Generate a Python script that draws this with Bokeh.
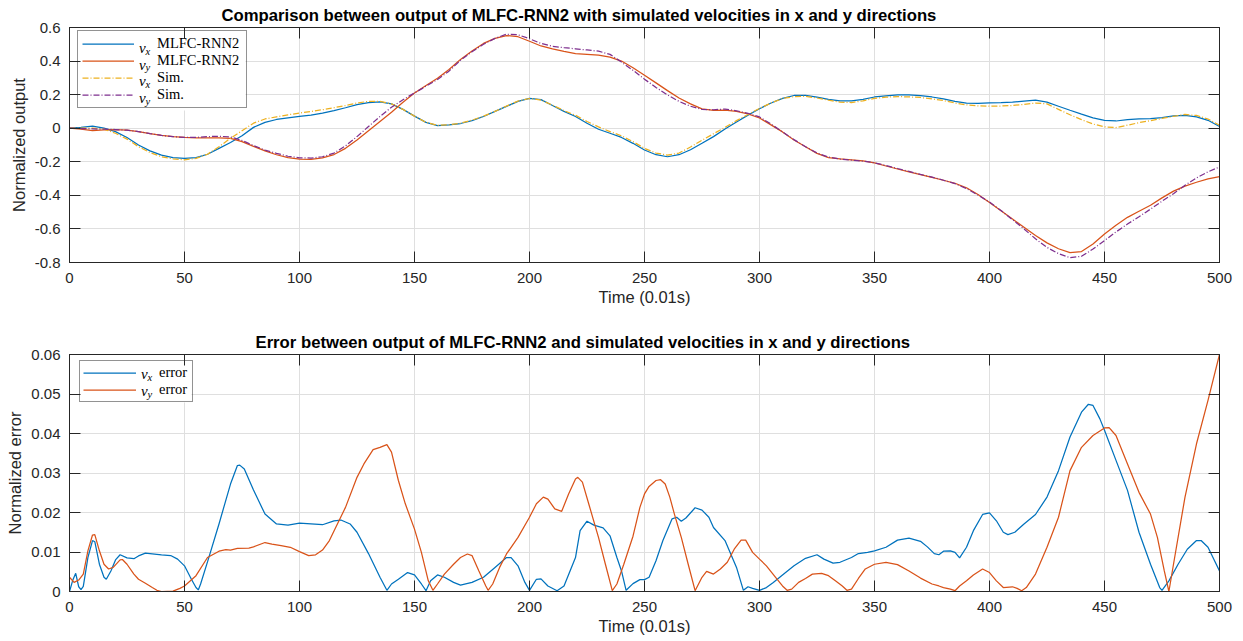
from bokeh.plotting import figure
from bokeh.models import FixedTicker, LinearAxis, Legend, LegendItem, BoxAnnotation
from bokeh.core.properties import value
from bokeh.layouts import column
from bokeh.embed import file_html
from bokeh.resources import INLINE

# ---------------- data ----------------
t_top = list(range(0, 505, 5))

vx_mlfc = [0.0, 0.005, 0.012, 0.0, -0.02, -0.055, -0.10, -0.135, -0.16, -0.175,
           -0.18, -0.175, -0.155, -0.12, -0.085, -0.045, 0.005, 0.035, 0.052, 0.062,
           0.07, 0.078, 0.09, 0.105, 0.122, 0.14, 0.153, 0.157, 0.145, 0.112,
           0.072, 0.035, 0.016, 0.02, 0.028, 0.045, 0.07, 0.1, 0.13, 0.16,
           0.178, 0.17, 0.135, 0.1, 0.07, 0.03, -0.006, -0.03, -0.055, -0.09,
           -0.13, -0.158, -0.17, -0.158, -0.128, -0.09, -0.05, -0.005, 0.037, 0.078,
           0.116, 0.15, 0.178, 0.195, 0.196, 0.185, 0.172, 0.163, 0.163, 0.172,
           0.186, 0.193, 0.198, 0.198, 0.194, 0.186, 0.175, 0.16, 0.149, 0.148,
           0.151, 0.152, 0.155, 0.162, 0.167, 0.155, 0.131, 0.107, 0.084, 0.062,
           0.047, 0.043, 0.051, 0.055, 0.057, 0.063, 0.073, 0.076, 0.068, 0.047,
           0.01]

vx_sim = [0.0, 0.0, 0.0, -0.005, -0.03, -0.065, -0.11, -0.145, -0.17, -0.183,
          -0.188, -0.18, -0.155, -0.11, -0.06, -0.015, 0.03, 0.055, 0.068, 0.08,
          0.09, 0.1, 0.11, 0.122, 0.135, 0.15, 0.16, 0.16, 0.145, 0.112,
          0.072, 0.035, 0.017, 0.02, 0.03, 0.048, 0.072, 0.1, 0.132, 0.162,
          0.177, 0.168, 0.137, 0.105, 0.077, 0.04, 0.008, -0.02, -0.045, -0.08,
          -0.12, -0.148, -0.16, -0.148, -0.112, -0.072, -0.033, 0.005, 0.045, 0.082,
          0.118, 0.15, 0.177, 0.188, 0.19, 0.18, 0.167, 0.155, 0.153, 0.163,
          0.178, 0.185, 0.188, 0.187, 0.183, 0.175, 0.165, 0.15, 0.139, 0.133,
          0.131, 0.132, 0.135, 0.142, 0.15, 0.145, 0.112, 0.08, 0.051, 0.025,
          0.008, 0.004, 0.018, 0.033, 0.045, 0.058, 0.071, 0.082, 0.076, 0.055,
          0.018]

vy_mlfc = [0.0, -0.005, -0.014, -0.01, -0.008, -0.012, -0.02, -0.032, -0.043, -0.05,
           -0.055, -0.057, -0.057, -0.057, -0.06, -0.08, -0.108, -0.135, -0.158, -0.175,
           -0.184, -0.185, -0.177, -0.157, -0.12, -0.07, -0.015, 0.04, 0.095, 0.155,
           0.21, 0.255, 0.298, 0.35, 0.41, 0.46, 0.505, 0.535, 0.552, 0.545,
           0.518, 0.49, 0.473, 0.458, 0.445, 0.44, 0.435, 0.424, 0.4, 0.36,
           0.316, 0.27, 0.224, 0.18, 0.145, 0.115, 0.106, 0.108, 0.1, 0.085,
           0.061, 0.02, -0.022, -0.07, -0.11, -0.15, -0.175, -0.183, -0.188, -0.195,
           -0.206, -0.225, -0.243, -0.26, -0.276, -0.293, -0.31, -0.328, -0.355, -0.395,
           -0.443, -0.492, -0.541, -0.59, -0.639, -0.683, -0.718, -0.741, -0.735, -0.69,
           -0.63, -0.578, -0.531, -0.495, -0.459, -0.415, -0.375, -0.345, -0.322, -0.302,
           -0.288]

vy_sim = [0.0, -0.002, -0.004, -0.006, -0.008, -0.012, -0.02, -0.032, -0.043, -0.05,
          -0.055, -0.055, -0.05, -0.048, -0.052, -0.073, -0.103, -0.13, -0.15, -0.167,
          -0.176, -0.178, -0.17, -0.148, -0.105, -0.05, 0.01, 0.07, 0.125, 0.17,
          0.21, 0.25, 0.29, 0.34, 0.405, 0.455, 0.5, 0.535, 0.56, 0.557,
          0.533, 0.505, 0.488, 0.48, 0.473, 0.466, 0.459, 0.44, 0.394, 0.345,
          0.292, 0.243, 0.198, 0.16, 0.131, 0.112, 0.11, 0.114, 0.104, 0.088,
          0.067, 0.025, -0.022, -0.068, -0.11, -0.148, -0.172, -0.184, -0.19, -0.196,
          -0.206, -0.222, -0.24, -0.257, -0.275, -0.292, -0.31, -0.33, -0.36, -0.398,
          -0.44, -0.49, -0.545, -0.6, -0.659, -0.71, -0.747, -0.771, -0.763, -0.72,
          -0.669, -0.618, -0.571, -0.527, -0.482, -0.435, -0.39, -0.34, -0.296, -0.26,
          -0.231]

t_vx_err = [0, 1.5, 2.7, 4, 5, 6, 8, 10, 11, 13, 15, 16, 18, 20, 22, 25, 28, 30, 33, 35,
            40, 44, 47, 50, 53, 55, 56, 57, 60, 65, 70, 73, 74, 76, 80, 85, 90, 95, 100, 105,
            110, 115, 118, 122, 125, 130, 135, 138, 140, 143, 147, 150, 153, 155, 157, 160, 163, 167, 170, 175,
            180, 185, 190, 192, 195, 198, 200, 203, 205, 208, 212, 215, 220, 222, 225, 228, 232, 235, 238, 240,
            242, 245, 248, 250, 252, 255, 258, 262, 264, 266, 268, 272, 275, 278, 280, 285, 290, 293, 295, 297,
            300, 303, 306, 310, 315, 320, 325, 328, 332, 335, 340, 343, 347, 350, 355, 360, 365, 370, 373, 376,
            378, 380, 383, 385, 387, 390, 393, 397, 400, 403, 406, 408, 411, 415, 420, 425, 430, 435, 440, 443,
            445, 448, 450, 455, 460, 465, 470, 474, 475, 478, 482, 486, 490, 492, 495, 500]
vx_err = [0.0, 0.003, 0.0046, 0.0012, 0.0005, 0.0013, 0.0086, 0.0129, 0.0126, 0.0069, 0.0036, 0.0031, 0.0052, 0.008, 0.0093, 0.0085, 0.0083, 0.009, 0.0097, 0.0096,
          0.0093, 0.0091, 0.0082, 0.0065, 0.0031, 0.001, 0.0004, 0.0019, 0.0075, 0.0171, 0.0272, 0.0319, 0.032, 0.031, 0.0257, 0.0196, 0.0171, 0.0168, 0.0173, 0.0171,
          0.0169, 0.0179, 0.0181, 0.0171, 0.015, 0.0096, 0.0036, 0.0003, 0.0019, 0.0031, 0.0048, 0.0042, 0.0019, 0.0002, 0.0027, 0.0042, 0.0036, 0.0023, 0.0016, 0.0023,
          0.0036, 0.0061, 0.0086, 0.0086, 0.0065, 0.0023, 0.0003, 0.0031, 0.0032, 0.0014, 0.0002, 0.0014, 0.0086, 0.0154, 0.0178, 0.0168, 0.0161, 0.0141, 0.0086, 0.0052,
          0.0003, 0.002, 0.003, 0.003, 0.0036, 0.0078, 0.0129, 0.0184, 0.0188, 0.0178, 0.0186, 0.0212, 0.0206, 0.0188, 0.0162, 0.0129, 0.0061, 0.0003, 0.0012, 0.0008,
          0.0003, 0.001, 0.0023, 0.0042, 0.0065, 0.0084, 0.0093, 0.0082, 0.0072, 0.0074, 0.0086, 0.0096, 0.0099, 0.0103, 0.0112, 0.013, 0.0135, 0.0127, 0.0113, 0.0096,
          0.0093, 0.0102, 0.0103, 0.0099, 0.0085, 0.0112, 0.0154, 0.0195, 0.0199, 0.0179, 0.015, 0.0144, 0.015, 0.0171, 0.0195, 0.0239, 0.0306, 0.0391, 0.0454, 0.0474,
          0.0471, 0.0437, 0.0408, 0.0332, 0.0256, 0.015, 0.0069, 0.001, 0.0003, 0.0027, 0.0069, 0.0107, 0.0129, 0.0129, 0.0112, 0.0052]

t_vy_err = [0, 2, 4, 6, 8, 10, 11, 13, 15, 17, 19, 22, 23, 25, 28, 30, 33, 36, 38, 40,
            45, 48, 50, 55, 60, 65, 68, 70, 73, 78, 80, 85, 88, 92, 96, 100, 104, 107, 110, 113,
            116, 120, 125, 128, 132, 135, 138, 140, 143, 146, 150, 153, 156, 158, 160, 163, 167, 170, 173, 175,
            178, 181, 182, 184, 187, 190, 195, 200, 203, 206, 208, 211, 214, 217, 220, 221, 223, 226, 230, 233,
            236, 238, 241, 245, 248, 250, 252, 255, 257, 259, 261, 263, 266, 269, 272, 275, 277, 280, 283, 286,
            289, 292, 294, 297, 300, 303, 307, 310, 312, 314, 317, 320, 323, 327, 330, 333, 336, 338, 340, 343,
            346, 350, 355, 360, 365, 370, 375, 378, 380, 383, 385, 387, 390, 393, 397, 400, 403, 406, 410, 412,
            414, 416, 420, 425, 430, 435, 440, 445, 450, 452, 455, 460, 465, 470, 473, 476, 478, 480, 485, 490,
            495, 500]
vy_err = [0.0036, 0.0023, 0.0029, 0.0044, 0.0103, 0.0143, 0.0144, 0.0103, 0.0069, 0.0057, 0.0061, 0.008, 0.0081, 0.0069, 0.0044, 0.0031, 0.0021, 0.001, 0.0003, 0.0,
          0.0001, 0.0008, 0.0014, 0.004, 0.0086, 0.0102, 0.0106, 0.0105, 0.0109, 0.011, 0.0113, 0.0124, 0.012, 0.0116, 0.0112, 0.0101, 0.0091, 0.0093, 0.0105, 0.0129,
          0.0165, 0.0213, 0.0289, 0.0323, 0.0359, 0.0365, 0.0372, 0.0353, 0.0281, 0.0222, 0.0158, 0.0099, 0.0027, 0.0003, 0.0019, 0.0044, 0.0069, 0.0086, 0.0095, 0.0091,
          0.0052, 0.0014, 0.0003, 0.0019, 0.0061, 0.0095, 0.0137, 0.0188, 0.0222, 0.0239, 0.0234, 0.0209, 0.0203, 0.0247, 0.0285, 0.0289, 0.0277, 0.0217, 0.0137, 0.0069,
          0.0002, 0.0019, 0.0069, 0.0140, 0.0213, 0.0247, 0.0266, 0.0281, 0.0283, 0.0272, 0.0239, 0.0196, 0.0137, 0.0069, 0.0002, 0.0036, 0.0051, 0.0044, 0.0057, 0.0074,
          0.0107, 0.013, 0.013, 0.0099, 0.0082, 0.0065, 0.0036, 0.0014, 0.0003, 0.0006, 0.0023, 0.0033, 0.0044, 0.0046, 0.004, 0.0027, 0.0014, 0.0003, 0.0006, 0.0033,
          0.0057, 0.0069, 0.0074, 0.0068, 0.0052, 0.0034, 0.0019, 0.0014, 0.001, 0.0006, 0.0002, 0.0014, 0.0027, 0.0042, 0.0057, 0.0048, 0.0027, 0.001, 0.0012, 0.0008,
          0.0002, 0.001, 0.0044, 0.0112, 0.0188, 0.0306, 0.0365, 0.0395, 0.0414, 0.0415, 0.0395, 0.0323, 0.0251, 0.0196, 0.0137, 0.0052, 0.0, 0.0069, 0.0239, 0.0374,
          0.0484, 0.06]

x_ticks = [0, 50, 100, 150, 200, 250, 300, 350, 400, 450, 500]
x_tick_labels = ["0", "50", "100", "150", "200", "250", "300", "350", "400", "450", "500"]
y_ticks_top = [-0.8, -0.6, -0.4, -0.2, 0, 0.2, 0.4, 0.6]
y_tick_labels_top = ["-0.8", "-0.6", "-0.4", "-0.2", "0", "0.2", "0.4", "0.6"]
y_ticks_bot = [0, 0.01, 0.02, 0.03, 0.04, 0.05, 0.06]
y_tick_labels_bot = ["0", "0.01", "0.02", "0.03", "0.04", "0.05", "0.06"]

title_top = "Comparison between output of MLFC-RNN2 with simulated velocities in x and y directions"
title_bot = "Error between output of MLFC-RNN2 and simulated velocities in x and y directions"
legend_top = ["MLFC-RNN2", "MLFC-RNN2", "Sim.", "Sim."]
legend_top_sub = ["x", "y", "x", "y"]
legend_bot = ["error", "error"]
legend_bot_sub = ["x", "y"]

# ---------------- styling / layout constants ----------------
BLUE, ORANGE, YELLOW, PURPLE = "#0072BD", "#D95319", "#EDB120", "#7E2F8E"
AX = "#262626"
GRID = "#dfdfdf"
SANS = "Liberation Sans"
SERIF = "Liberation Serif"
FW = 1150           # frame width in px
X0, X1 = 0, 500


def style_axis(ax, ticks, labels, show_labels=True):
    ax.ticker = FixedTicker(ticks=ticks)
    ax.major_tick_in = 11
    ax.major_tick_out = 0
    ax.minor_tick_in = 0
    ax.minor_tick_out = 0
    ax.major_tick_line_color = AX
    ax.major_tick_line_width = 1
    ax.axis_line_color = AX
    ax.axis_line_width = 1
    if show_labels:
        ax.major_label_overrides = dict(zip(ticks, labels))
        ax.major_label_text_font = SANS
        ax.major_label_text_font_size = "15px"
        ax.major_label_text_color = AX
        ax.axis_label_text_font = SANS
        ax.axis_label_text_font_size = "16.5px"
        ax.axis_label_text_font_style = "normal"
        ax.axis_label_text_color = AX
    else:
        ax.major_label_overrides = {t: "" for t in ticks}
        ax.major_label_text_font_size = "0px"
        ax.major_label_standoff = 0


def make_fig(title, title_offset, yr, yticks, ylabels, ylabel, mb_top, fh, mb_bottom):
    p = figure(width=1235, height=mb_top + fh + mb_bottom, x_range=(X0, X1), y_range=yr,
               output_backend="svg", toolbar_location=None,
               min_border_left=69, min_border_right=16,
               min_border_top=mb_top, min_border_bottom=mb_bottom)
    p.title.text = title
    p.title.align = "left"
    p.title.offset = title_offset
    p.title.standoff = 6
    p.title.text_font = SANS
    p.title.text_font_size = "16.7px"
    p.title.text_font_style = "bold"
    p.title.text_color = "#000000"
    p.background_fill_color = "white"
    p.border_fill_color = "white"
    p.outline_line_color = AX
    p.outline_line_width = 1

    style_axis(p.xaxis[0], x_ticks, x_tick_labels)
    style_axis(p.yaxis[0], yticks, ylabels)
    p.xaxis[0].axis_label = "Time (0.01s)"
    p.xaxis[0].major_label_standoff = 10
    p.xaxis[0].axis_label_standoff = 2
    p.yaxis[0].axis_label = ylabel
    p.yaxis[0].major_label_standoff = 9
    p.yaxis[0].axis_label_standoff = 4

    top = LinearAxis()
    style_axis(top, x_ticks, x_tick_labels, show_labels=False)
    p.add_layout(top, "above")
    right = LinearAxis()
    style_axis(right, yticks, ylabels, show_labels=False)
    p.add_layout(right, "right")

    p.xgrid.ticker = FixedTicker(ticks=x_ticks)
    p.ygrid.ticker = FixedTicker(ticks=yticks)
    p.xgrid.grid_line_color = GRID
    p.ygrid.grid_line_color = GRID
    p.xgrid.grid_line_width = 1
    p.ygrid.grid_line_width = 1
    return p


def add_legend(p, renderers, texts, subs, fh, yr, left, top, pad, gw, lw):
    """Native legend (transparent) over a white box; italic 'v' + subscript as text glyphs."""
    n = len(renderers)
    rh = 17
    h = n * rh + 2 * pad
    y0, y1 = yr
    sx = lambda px: X0 + px * (X1 - X0) / FW
    sy = lambda px_from_top: y1 - px_from_top * (y1 - y0) / fh
    w = pad + gw + 23 + lw + pad
    # white background of the legend box (covers the grid, beneath the curves)
    p.add_layout(BoxAnnotation(left=sx(left), right=sx(left + w), top=sy(top), bottom=sy(top + h),
                               fill_color="white", fill_alpha=1.0, line_alpha=0.0,
                               level="underlay", propagate_hover=False))
    leg = Legend(items=[LegendItem(label=t, renderers=[r]) for t, r in zip(texts, renderers)],
                 location=(left, fh - top - h), padding=pad, spacing=0, margin=0,
                 glyph_width=gw, glyph_height=rh, label_height=rh, label_width=lw,
                 label_standoff=23, label_text_font=SERIF, label_text_font_size="14.5px",
                 label_text_color="#000000",
                 border_line_color=AX, border_line_width=1,
                 background_fill_alpha=0.0)
    p.add_layout(leg)
    vx_px = left + pad + gw + 5.5
    rows = [top + pad + rh / 2 + rh * i for i in range(n)]
    p.text(x=[sx(vx_px)] * n, y=[sy(r) for r in rows], text=["v"] * n,
           text_font=value(SERIF), text_font_style="italic", text_font_size="15px",
           text_baseline="middle", text_align="left", text_color="#000000")
    p.text(x=[sx(vx_px + 6.5)] * n, y=[sy(r + 3.5) for r in rows], text=list(subs),
           text_font=value(SERIF), text_font_style="italic", text_font_size="10.5px",
           text_baseline="middle", text_align="left", text_color="#000000")


# ---------------- top figure ----------------
FH1 = 238
YR1 = (-0.8, 0.6)
p1 = make_fig(title_top, 152, YR1, y_ticks_top, y_tick_labels_top,
              "Normalized output", 24, FH1, 58)
r1 = p1.line(t_top, vx_mlfc, line_color=BLUE, line_width=1.25)
r2 = p1.line(t_top, vy_mlfc, line_color=ORANGE, line_width=1.25)
r3 = p1.line(t_top, vx_sim, line_color=YELLOW, line_width=1.25, line_dash="6 2 1 2")
r4 = p1.line(t_top, vy_sim, line_color=PURPLE, line_width=1.25, line_dash="6 2 1 2")
add_legend(p1, [r1, r2, r3, r4], legend_top, legend_top_sub, FH1, YR1,
           left=8, top=8, pad=4, gw=52, lw=85)

# ---------------- bottom figure ----------------
FH2 = 237
YR2 = (0, 0.06)
p2 = make_fig(title_bot, 186, YR2, y_ticks_bot, y_tick_labels_bot,
              "Normalized error", 34, FH2, 50)
e1 = p2.line(t_vx_err, vx_err, line_color=BLUE, line_width=1.25)
e2 = p2.line(t_vy_err, vy_err, line_color=ORANGE, line_width=1.25)
add_legend(p2, [e1, e2], legend_bot, legend_bot_sub, FH2, YR2,
           left=10, top=8, pad=3, gw=53, lw=30)

layout = column(p1, p2, spacing=0)
open("out.html", "w").write(file_html(layout, INLINE))
